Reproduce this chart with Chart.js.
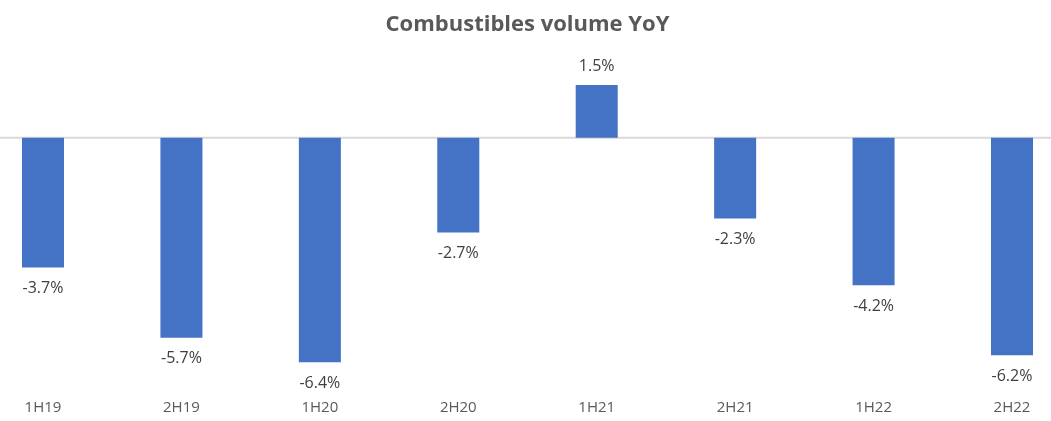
<!DOCTYPE html>
<html>
<head>
<meta charset="utf-8">
<script src="https://cdn.jsdelivr.net/npm/chart.js@4"></script>
<style>
  html, body { margin: 0; padding: 0; background: #fff; }
</style>
</head>
<body>
<canvas id="volChart" width="1051" height="421"></canvas>
<script>
// combustibles volume, % change year on year
const periods = ['1H19', '2H19', '1H20', '2H20', '1H21', '2H21', '1H22', '2H22'];
const yoyChange = [-3.7, -5.7, -6.4, -2.7, 1.5, -2.3, -4.2, -6.2];

// zero line across the whole width + value labels at the end of each bar
const barLabels = {
    id: 'barLabels',
    beforeDatasetsDraw(chart) {
        const ctx = chart.ctx;
        const y0 = chart.scales.y.getPixelForValue(0);
        ctx.save();
        ctx.strokeStyle = '#d9d9d9';
        ctx.lineWidth = 2;
        ctx.beginPath();
        ctx.moveTo(0, y0);
        ctx.lineTo(chart.width, y0);
        ctx.stroke();
        ctx.restore();
    },
    afterDatasetsDraw(chart) {
        const ctx = chart.ctx;
        const meta = chart.getDatasetMeta(0);
        ctx.save();
        ctx.font = '16px "Open Sans"';
        ctx.fillStyle = '#404040';
        ctx.textAlign = 'center';
        ctx.textBaseline = 'middle';
        meta.data.forEach((bar, i) => {
            const v = yoyChange[i];
            const y = v >= 0 ? bar.y - 19 : bar.y + 21;
            ctx.fillText(v.toFixed(1) + '%', bar.x, y);
        });
        ctx.restore();
    }
};

new Chart(document.getElementById('volChart'), {
    type: 'bar',
    data: {
        labels: periods,
        datasets: [{
            label: 'Combustibles volume YoY',
            data: yoyChange,
            backgroundColor: '#4472C4',
            borderWidth: 0,
            barPercentage: 0.3035,
            categoryPercentage: 1,
            clip: false
        }]
    },
    options: {
        responsive: false,
        animation: false,
        layout: {
            padding: { left: 43, right: 39, top: 12, bottom: 6 }
        },
        plugins: {
            legend: { display: false },
            tooltip: { enabled: false },
            title: {
                display: true,
                text: 'Combustibles volume YoY',
                color: '#595959',
                font: { family: '"Open Sans"', size: 22, weight: 'bold' },
                padding: { top: 0, bottom: 11.6 }
            }
        },
        scales: {
            x: {
                offset: false,
                grid: { display: false, drawTicks: false },
                border: { display: false },
                ticks: {
                    color: '#595959',
                    font: { family: '"Open Sans"', size: 15 },
                    padding: 15,
                    maxRotation: 0,
                    autoSkip: false
                },
                afterFit(scale) { scale.height = 31.6; }
            },
            y: {
                display: false,
                min: -7,
                max: 2.5
            }
        }
    },
    plugins: [barLabels]
});
</script>
</body>
</html>
